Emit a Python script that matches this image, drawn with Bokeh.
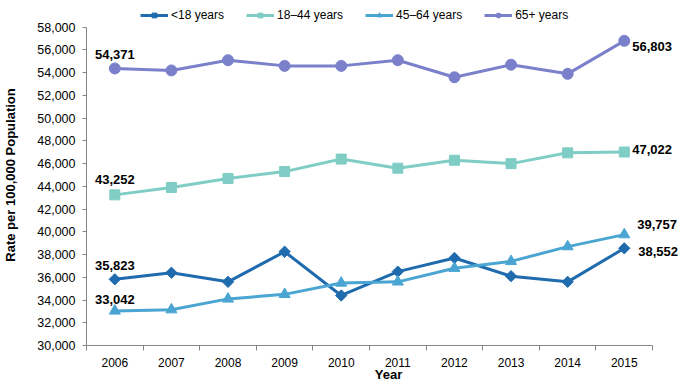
import math
from bokeh.plotting import figure
from bokeh.models import (Range1d, FixedTicker, NumeralTickFormatter, ColumnDataSource,
                          Legend, LegendItem, LabelSet)
from bokeh.core.properties import value
from bokeh.embed import file_html
from bokeh.resources import INLINE

# ---- data ----
years = [2006, 2007, 2008, 2009, 2010, 2011, 2012, 2013, 2014, 2015]
under18 = [35823, 36400, 35600, 38250, 34400, 36500, 37700, 36100, 35600, 38552]
age18_44 = [43252, 43900, 44700, 45300, 46400, 45600, 46300, 46000, 46950, 47022]
age45_64 = [33042, 33150, 34100, 34500, 35500, 35600, 36800, 37400, 38700, 39757]
age65plus = [54371, 54200, 55100, 54600, 54600, 55100, 53600, 54700, 53900, 56803]
series_names = ["<18 years", "18\u201344 years", "45\u201364 years", "65+ years"]
y_ticks = list(range(30000, 58001, 2000))
x_label = "Year"
y_label = "Rate per 100,000 Population"

FONT = "Liberation Sans"

# The frame is extended right/up (beyond the axis bounds) so that the
# end labels and the legend are not clipped; the axes are bounded.
x_lo, x_hi = years[0] - 0.5, years[-1] + 0.5
p = figure(width=695, height=384, output_backend="svg", toolbar_location=None,
           x_range=Range1d(x_lo, x_hi + 0.67),
           y_range=Range1d(y_ticks[0], 60000),
           min_border_left=86, min_border_right=5, min_border_top=4, min_border_bottom=37)
p.outline_line_color = None
p.xgrid.grid_line_color = None
p.ygrid.grid_line_color = None
p.background_fill_color = "white"
p.border_fill_color = "white"

# axes
xa = p.xaxis[0]
xa.bounds = (x_lo, x_hi)
xa.ticker = FixedTicker(ticks=years, minor_ticks=[y - 0.5 for y in years] + [x_hi])
xa.major_tick_out = 0
xa.major_tick_in = 0
xa.minor_tick_out = 5
xa.minor_tick_in = 0
xa.minor_tick_line_color = "#868686"
xa.axis_line_color = "#868686"
xa.major_label_text_font = FONT
xa.major_label_text_font_size = "12px"
xa.major_label_text_color = "#000000"
xa.major_label_standoff = 7
xa.axis_label = x_label
xa.axis_label_text_font = FONT
xa.axis_label_text_font_style = "bold"
xa.axis_label_text_font_size = "13px"
xa.axis_label_text_color = "#000000"
xa.axis_label_standoff = -3

ya = p.yaxis[0]
ya.bounds = (y_ticks[0], y_ticks[-1])
ya.ticker = FixedTicker(ticks=y_ticks)
ya.formatter = NumeralTickFormatter(format="0,0")
ya.major_tick_out = 4
ya.major_tick_in = 0
ya.minor_tick_out = 0
ya.minor_tick_in = 0
ya.major_tick_line_color = "#868686"
ya.axis_line_color = "#868686"
ya.major_label_text_font = FONT
ya.major_label_text_font_size = "12.5px"
ya.major_label_text_color = "#000000"
ya.major_label_standoff = 7
ya.axis_label = y_label
ya.axis_label_text_font = FONT
ya.axis_label_text_font_style = "bold"
ya.axis_label_text_font_size = "13px"
ya.axis_label_text_color = "#000000"
ya.axis_label_standoff = 16

colors = ["#1F6BAE", "#7FCDC4", "#4AA5D2", "#7B80CB"]
markers = ["square", "square", "triangle", "circle"]
angles = [math.pi / 4, 0, 0, 0]
sizes = [8, 10, 11, 11]
leg_sizes = [5, 7, 7, 7]
all_series = [under18, age18_44, age45_64, age65plus]

items = []
for vals, name, c, m, a, s, ls in zip(all_series, series_names, colors, markers, angles, sizes, leg_sizes):
    src = ColumnDataSource(dict(x=years, y=vals))
    p.line("x", "y", source=src, line_color=c, line_width=3)
    p.scatter("x", "y", source=src, marker=m, angle=a, size=s, fill_color=c, line_color=c)
    # legend proxies (not drawn in the plot area)
    proxy = ColumnDataSource(dict(x=[float("nan")], y=[float("nan")]))
    lr = p.line("x", "y", source=proxy, line_color=c, line_width=3)
    sr = p.scatter("x", "y", source=proxy, marker=m, angle=a, size=ls, fill_color=c, line_color=c)
    items.append(LegendItem(label=name, renderers=[lr, sr]))

legend = Legend(items=items, orientation="horizontal", location=(54, 323),
                glyph_width=28, glyph_height=12, label_standoff=3, spacing=22,
                padding=0, margin=0, border_line_color=None, background_fill_alpha=0,
                label_text_font=FONT, label_text_font_size="12px", label_text_color="#000000",
                label_height=14)
p.add_layout(legend)

# end-point value labels
fmt = lambda v: f"{v:,}"
first_lbl = ColumnDataSource(dict(
    x=[years[0]] * 4,
    y=[s[0] for s in all_series],
    text=[fmt(s[0]) for s in all_series],
    dy=[14, 15, 11, 14],
))
last_lbl = ColumnDataSource(dict(
    x=[years[-1]] * 4,
    y=[s[-1] for s in all_series],
    text=[fmt(s[-1]) for s in all_series],
    dx=[14, 8, 13, 8],
    dy=[-3, 3, 10, -6],
))
for src, kw in ((first_lbl, dict(text_align="center")),
                (last_lbl, dict(text_align="left", x_offset="dx"))):
    p.add_layout(LabelSet(x="x", y="y", text="text", source=src, y_offset="dy",
                          text_baseline="middle", text_font=value(FONT),
                          text_font_style=value("bold"), text_font_size=value("13px"),
                          text_color=value("#000000"), **kw))

open("out.html", "w").write(file_html(p, INLINE))
